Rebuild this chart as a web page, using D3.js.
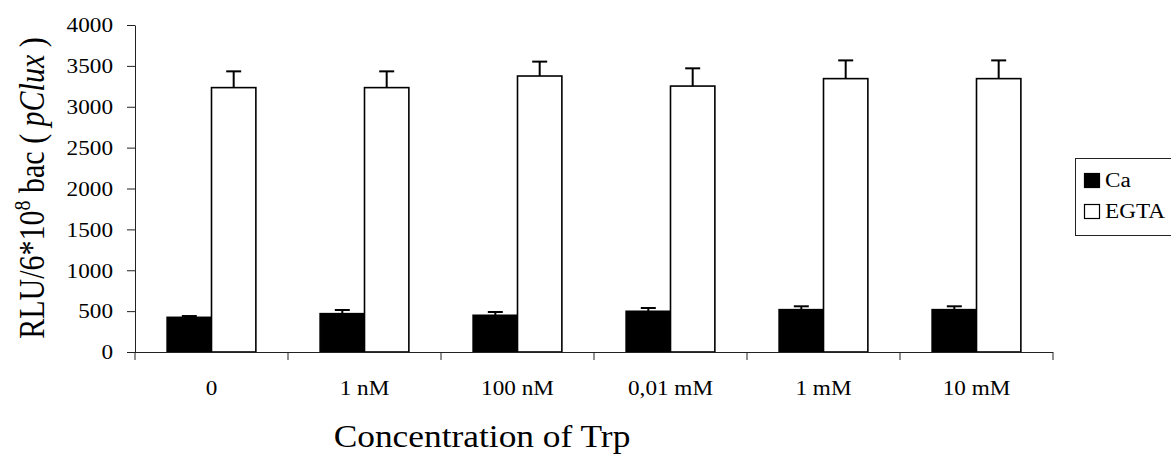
<!DOCTYPE html>
<html>
<head>
<meta charset="utf-8">
<script src="https://cdn.jsdelivr.net/npm/d3@7"></script>
<style>
  html, body { margin: 0; padding: 0; background: #fff; }
  svg { display: block; font-family: "Liberation Serif", "Times New Roman", serif; }
</style>
</head>
<body>
<svg id="chart" width="1171" height="454"></svg>
<script>
// Trp concentrations on the x axis
const categories = ["0", "1 nM", "100 nM", "0,01 mM", "1 mM", "10 mM"];
const seriesNames = ["Ca", "EGTA"];
// Mean luminescence per condition
const caValues   = [424, 469, 449, 498, 518, 518];
const egtaValues = [3234, 3234, 3376, 3253, 3344, 3344];
// Upper error (standard deviation)
const caErrors   = [16, 45, 40, 40, 41, 41];
const egtaErrors = [199, 199, 176, 217, 223, 223];
const yTicks = [0, 500, 1000, 1500, 2000, 2500, 3000, 3500, 4000];

const SX = 1.16; // horizontal text stretch
const svg = d3.select("#chart");
const plotLeft = 135, plotRight = 1053, plotTop = 25, plotBottom = 352;

const x = d3.scaleBand().domain(categories).range([plotLeft, plotRight]).paddingInner(0).paddingOuter(0);
const xs = d3.scaleBand().domain(seriesNames)
  .range([x.bandwidth() * 0.21, x.bandwidth() * 0.79]).padding(0);
const y = d3.scaleLinear().domain([0, 4000]).range([plotBottom, plotTop]);

const rows = categories.map((c, i) => ({
  cat: c,
  items: [
    { s: "Ca", v: caValues[i], e: caErrors[i] },
    { s: "EGTA", v: egtaValues[i], e: egtaErrors[i] }
  ]
}));
const fills = { Ca: "#000", EGTA: "#fff" };

// Y axis
const yAxis = svg.append("g")
  .attr("transform", `translate(${plotLeft},0)`)
  .call(d3.axisLeft(y).tickValues(yTicks).tickSize(8).tickSizeOuter(0).tickFormat(d3.format("d")));
yAxis.select(".domain").attr("stroke", "#222");
yAxis.selectAll(".tick line").attr("stroke", "#222");
yAxis.selectAll(".tick text")
  .attr("x", -19)
  .attr("dy", "0.34em")
  .attr("transform", `scale(${SX},1)`)
  .attr("font-size", 20)
  .attr("font-family", "Liberation Serif")
  .attr("fill", "#000");

// Bars
const groups = svg.append("g").selectAll("g").data(rows).join("g")
  .attr("transform", d => `translate(${x(d.cat)},0)`);
groups.selectAll("rect").data(d => d.items).join("rect")
  .attr("x", d => xs(d.s))
  .attr("y", d => y(d.v))
  .attr("width", xs.bandwidth())
  .attr("height", d => y(0) - y(d.v))
  .attr("fill", d => fills[d.s])
  .attr("stroke", "#000")
  .attr("stroke-width", 1.6);

// Error bars (upper only)
const err = groups.selectAll("g.err").data(d => d.items).join("g").attr("class", "err")
  .attr("stroke", "#000").attr("stroke-width", 2);
err.append("line")
  .attr("x1", d => xs(d.s) + xs.bandwidth() / 2)
  .attr("x2", d => xs(d.s) + xs.bandwidth() / 2)
  .attr("y1", d => y(d.v))
  .attr("y2", d => y(d.v + d.e));
err.append("line")
  .attr("x1", d => xs(d.s) + xs.bandwidth() / 2 - 7.5)
  .attr("x2", d => xs(d.s) + xs.bandwidth() / 2 + 7.5)
  .attr("y1", d => y(d.v + d.e))
  .attr("y2", d => y(d.v + d.e));

// X axis line and category boundary ticks
const xAxis = svg.append("g").attr("transform", `translate(0,${plotBottom})`);
xAxis.append("line").attr("x1", plotLeft).attr("x2", plotRight).attr("y1", 0.5).attr("y2", 0.5)
  .attr("stroke", "#222");
const bounds = [x(categories[0])].concat(categories.map(c => x(c) + x.bandwidth()));
xAxis.selectAll("line.tk").data(bounds).join("line").attr("class", "tk")
  .attr("x1", d => d).attr("x2", d => d).attr("y1", 0).attr("y2", 8)
  .attr("stroke", "#222");
xAxis.selectAll("text").data(categories).join("text")
  .attr("transform", d => `translate(${x(d) + x.bandwidth() / 2},43) scale(${SX},1)`)
  .attr("text-anchor", "middle")
  .attr("font-size", 20)
  .text(d => d);

// Axis titles
svg.append("text")
  .attr("transform", `translate(482,447) scale(${SX},1)`)
  .attr("text-anchor", "middle")
  .attr("font-size", 30.5)
  .text("Concentration of Trp");

const yt = svg.append("text")
  .attr("transform", `translate(44,188) scale(${SX},1) rotate(-90)`)
  .attr("text-anchor", "middle")
  .attr("font-size", 30);
yt.append("tspan").text("RLU/6*10");
yt.append("tspan").attr("font-size", 20).attr("dy", -12).text("8");
yt.append("tspan").attr("dy", 12).text(" bac ( ");
yt.append("tspan").attr("font-style", "italic").text("pClux");
yt.append("tspan").text(" )");

// Legend
const lg = svg.append("g");
lg.append("rect").attr("x", 1075.5).attr("y", 158.5).attr("width", 120).attr("height", 77)
  .attr("fill", "#fff").attr("stroke", "#222");
const li = lg.selectAll("g").data(seriesNames).join("g")
  .attr("transform", (d, i) => `translate(1084,${173 + i * 31})`);
li.append("rect").attr("x", 0.5).attr("y", 0.5).attr("width", 15).attr("height", 14)
  .attr("fill", d => fills[d]).attr("stroke", "#000").attr("stroke-width", 1.2);
li.append("text")
  .attr("transform", `translate(21,14) scale(${SX},1)`)
  .attr("font-size", 20)
  .text(d => d);
</script>
</body>
</html>
